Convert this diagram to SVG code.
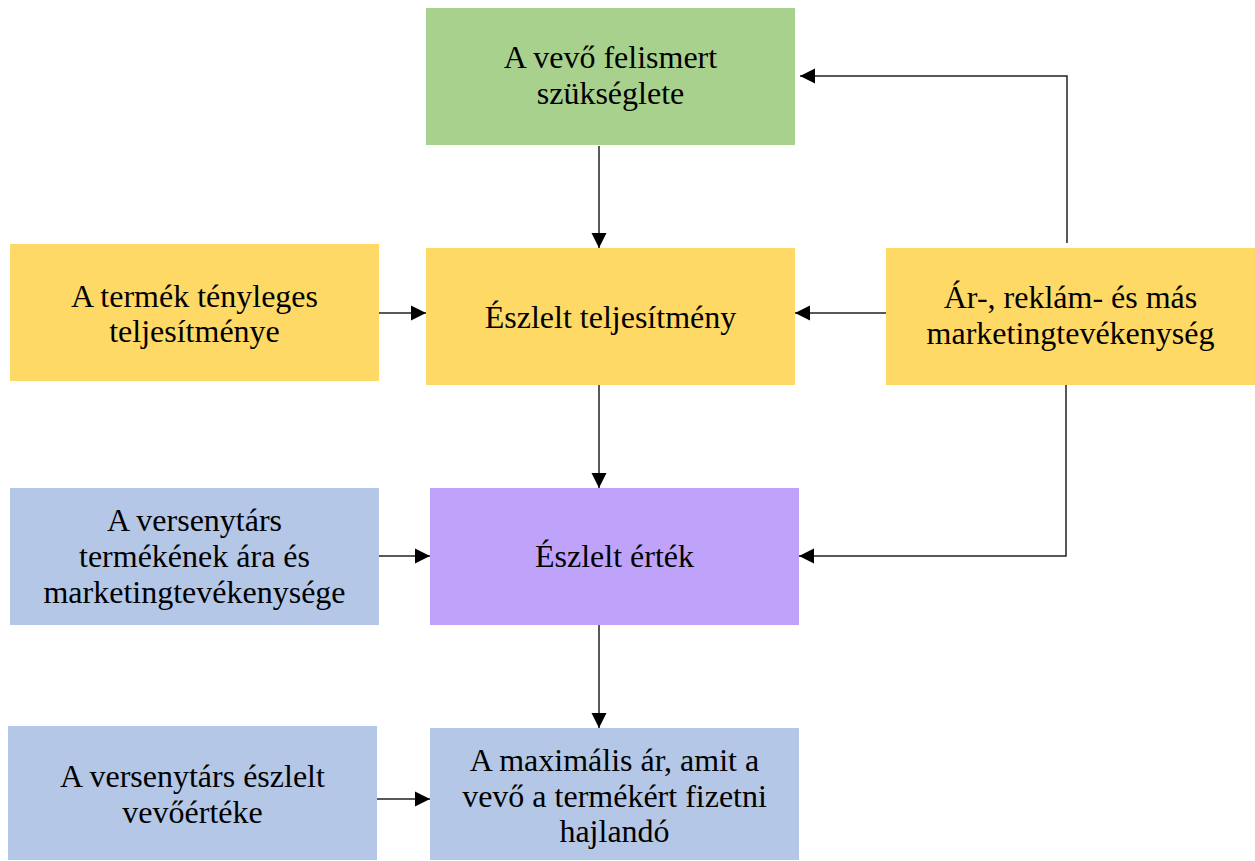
<svg xmlns="http://www.w3.org/2000/svg" width="1255" height="861" viewBox="0 0 1255 861">
<defs>
<marker id="ah" markerUnits="userSpaceOnUse" markerWidth="16" markerHeight="16" viewBox="0 0 16 16" refX="15" refY="8" orient="auto">
<path d="M0,0.5 L15,8 L0,15.5 Z" fill="#000"/>
</marker>
<style>
.t{font-family:"Liberation Serif","Times New Roman",serif;font-size:32px;fill:#000;text-anchor:middle}
.c{fill:none;stroke:#222;stroke-width:1.5;marker-end:url(#ah)}
.g{fill:#A9D18E}.y{fill:#FFD966}.b{fill:#B4C7E7}.p{fill:#BFA2FA}
</style>
</defs>
<rect width="1255" height="861" fill="#fff"/>
<g id="n1"><rect class="g" x="426" y="8" width="369" height="137"/><text class="t" x="610.5" y="68">A vevő felismert</text><text class="t" x="610.5" y="104">szükséglete</text></g>
<g id="n2"><rect class="y" x="10" y="244" width="369" height="137"/><text class="t" x="194.5" y="307">A termék tényleges</text><text class="t" x="194.5" y="342">teljesítménye</text></g>
<g id="n3"><rect class="y" x="426" y="248" width="369" height="137"/><text class="t" x="610.5" y="328">Észlelt teljesítmény</text></g>
<g id="n4"><rect class="y" x="886" y="248" width="369" height="137"/><text class="t" x="1070.5" y="308">Ár-, reklám- és más</text><text class="t" x="1070.5" y="344">marketingtevékenység</text></g>
<g id="n5"><rect class="p" x="430" y="488" width="369" height="137"/><text class="t" x="614.5" y="567">Észlelt érték</text></g>
<g id="n6"><rect class="b" x="10" y="488" width="369" height="137"/><text class="t" x="194.5" y="531">A versenytárs</text><text class="t" x="194.5" y="567">termékének ára és</text><text class="t" x="194.5" y="603">marketingtevékenysége</text></g>
<g id="n7"><rect class="b" x="8" y="726" width="369" height="134"/><text class="t" x="192.5" y="787">A versenytárs észlelt</text><text class="t" x="192.5" y="823">vevőértéke</text></g>
<g id="n8"><rect class="b" x="430" y="728" width="369" height="132"/><text class="t" x="614.5" y="771">A maximális ár, amit a</text><text class="t" x="614.5" y="807">vevő a termékért fizetni</text><text class="t" x="614.5" y="842">hajlandó</text></g>
<g id="connectors">
<path class="c" d="M599,146 V248"/>
<path class="c" d="M379,313 H426"/>
<path class="c" d="M886,313 H795"/>
<path class="c" d="M1067,243 V76 H800"/>
<path class="c" d="M599,385 V488"/>
<path class="c" d="M1066,385 V556 H799"/>
<path class="c" d="M379,556 H430"/>
<path class="c" d="M599,625 V728"/>
<path class="c" d="M377,799 H430"/>
</g>
</svg>
